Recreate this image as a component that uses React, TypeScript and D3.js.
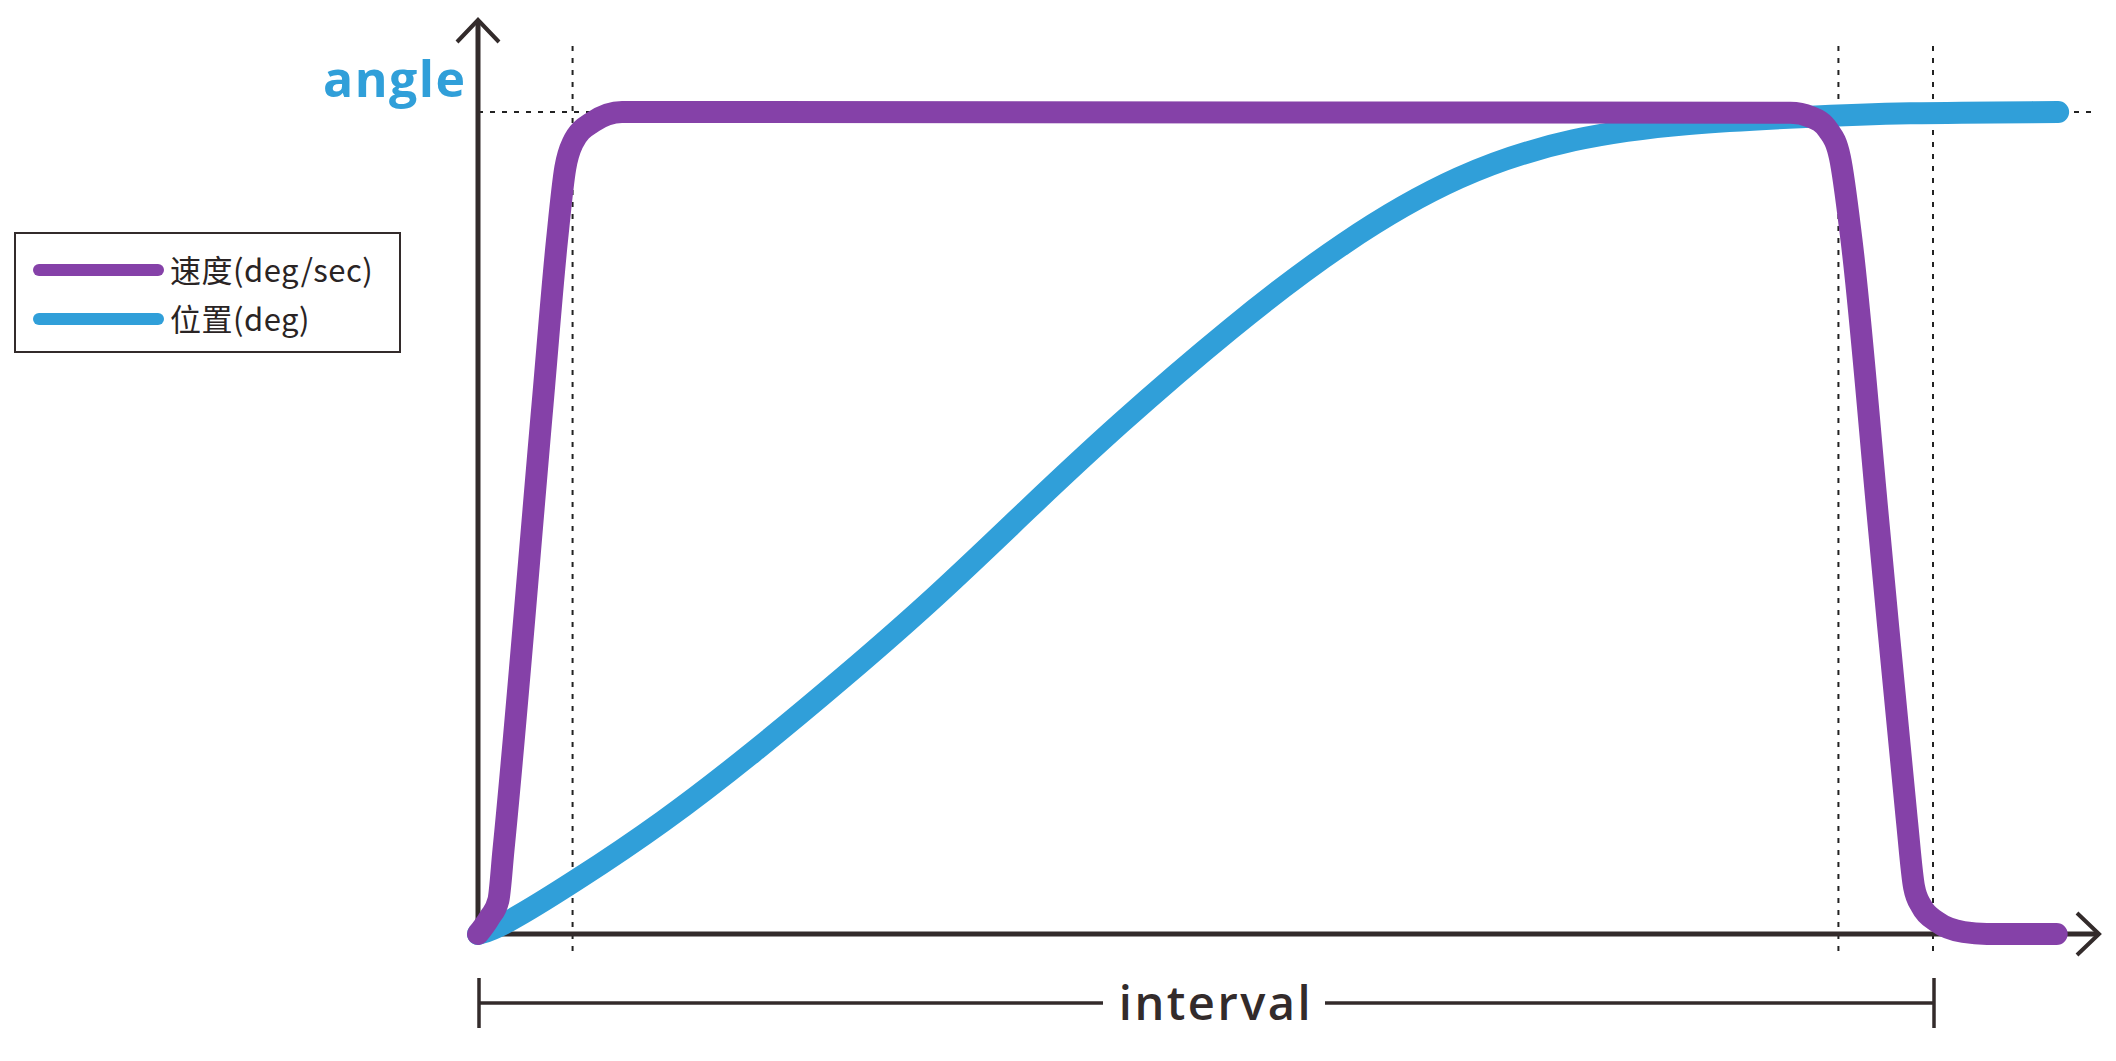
import React, {useEffect, useRef} from 'react';
import * as d3 from 'd3';

const width = 2116;
const height = 1061;

// time is in % of the interval, values in % of the target angle / max speed
const speedTime = [0, 0.8, 1.4, 1.75, 4.44, 5.43, 6.0, 6.5, 7.9, 9.9, 90.2, 91.6, 92.8, 93.6, 94.4, 96.3, 98.2, 98.7, 99.2, 100.3, 102.1, 103.7, 108.5];
const speedValue = [0, 2, 4.1, 10.2, 64.5, 84.4, 93.2, 96.2, 98.8, 100, 99.9, 99.4, 97.8, 94.5, 84.4, 49.1, 13.9, 5.7, 3.4, 1.46, 0.24, 0, 0];

const posTime = [0, 1.6, 6.5, 12.7, 18.9, 25.2, 31.5, 37.9, 43.8, 51.7, 59.5, 67.4, 75.3, 83.2, 91.1, 97.7, 108.6];
const posValue = [0, 0.85, 6.2, 13.5, 22, 31.3, 41, 51.9, 61.7, 73.8, 84.4, 92.6, 97, 98.7, 99.4, 99.9, 100];

// accel end, decel start, interval end
const markers = [6.5, 93.5, 100];

const legendLabels = ['速度(deg/sec)', '位置(deg)'];
const colors = ['#8541a8', '#309fd9'];
const axisColor = '#332b2b';

function App() {
    const ref = useRef<SVGSVGElement>(null);

    useEffect(() => {
        const svg = d3.select(ref.current);
        svg.selectAll('*').remove();

        const x = d3.scaleLinear().domain([0, 100]).range([478, 1933]);
        const y = d3.scaleLinear().domain([0, 100]).range([934, 112]);

        // dotted guides
        svg.append('line')
            .attr('x1', x(0)).attr('x2', x(111))
            .attr('y1', y(100)).attr('y2', y(100))
            .attr('stroke', '#222').attr('stroke-width', 2)
            .attr('stroke-dasharray', '5 7');

        svg.selectAll('.marker')
            .data(markers)
            .enter()
            .append('line')
            .attr('class', 'marker')
            .attr('x1', (d) => x(d)).attr('x2', (d) => x(d))
            .attr('y1', 46).attr('y2', 958)
            .attr('stroke', '#222').attr('stroke-width', 2)
            .attr('stroke-dasharray', '5 7');

        // axes with arrows
        svg.append('line')
            .attr('x1', x(0)).attr('x2', x(0))
            .attr('y1', y(0) + 2).attr('y2', 20)
            .attr('stroke', axisColor).attr('stroke-width', 5);
        svg.append('path')
            .attr('d', `M${x(0) - 21},42L${x(0)},20L${x(0) + 21},42`)
            .attr('fill', 'none').attr('stroke', axisColor).attr('stroke-width', 4);

        svg.append('line')
            .attr('x1', x(0)).attr('x2', 2098)
            .attr('y1', y(0)).attr('y2', y(0))
            .attr('stroke', axisColor).attr('stroke-width', 5);
        svg.append('path')
            .attr('d', `M2077,${y(0) - 21}L2099,${y(0)}L2077,${y(0) + 21}`)
            .attr('fill', 'none').attr('stroke', axisColor).attr('stroke-width', 4);

        // curves
        const posLine = d3.line<number>()
            .x((d) => x(d))
            .y((_, i) => y(posValue[i]))
            .curve(d3.curveBasis);

        const speedLine = d3.line<number>()
            .x((d) => x(d))
            .y((_, i) => y(speedValue[i]))
            .curve(d3.curveMonotoneX);

        svg.append('path')
            .attr('d', posLine(posTime))
            .attr('fill', 'none')
            .attr('stroke', colors[1])
            .attr('stroke-width', 22)
            .attr('stroke-linecap', 'round')
            .attr('stroke-linejoin', 'round');

        svg.append('path')
            .attr('d', speedLine(speedTime))
            .attr('fill', 'none')
            .attr('stroke', colors[0])
            .attr('stroke-width', 22)
            .attr('stroke-linecap', 'round')
            .attr('stroke-linejoin', 'round');

        // y label
        svg.append('text')
            .attr('x', 323).attr('y', 97)
            .attr('font-family', '"Open Sans", sans-serif')
            .attr('font-weight', 700)
            .attr('font-size', 50)
            .attr('letter-spacing', 1.5)
            .attr('fill', colors[1])
            .text('angle');

        // interval bracket
        const by = 1003;
        svg.append('line')
            .attr('x1', x(0)).attr('x2', 1103).attr('y1', by).attr('y2', by)
            .attr('stroke', axisColor).attr('stroke-width', 3.5);
        svg.append('line')
            .attr('x1', 1325).attr('x2', x(100)).attr('y1', by).attr('y2', by)
            .attr('stroke', axisColor).attr('stroke-width', 3.5);
        svg.selectAll('.tick')
            .data([0, 100])
            .enter()
            .append('line')
            .attr('class', 'tick')
            .attr('x1', (d) => x(d) + 1).attr('x2', (d) => x(d) + 1)
            .attr('y1', 978).attr('y2', 1028)
            .attr('stroke', axisColor).attr('stroke-width', 3.5);
        svg.append('text')
            .attr('x', 1216).attr('y', 1020)
            .attr('text-anchor', 'middle')
            .attr('font-family', '"Open Sans", sans-serif')
            .attr('font-weight', 600)
            .attr('font-size', 47)
            .attr('letter-spacing', 2.5)
            .attr('fill', axisColor)
            .text('interval');

        // legend
        const legend = svg.append('g');
        legend.append('rect')
            .attr('x', 15).attr('y', 233)
            .attr('width', 385).attr('height', 119)
            .attr('fill', 'none')
            .attr('stroke', axisColor)
            .attr('stroke-width', 2);

        const item = legend.selectAll('.item')
            .data(legendLabels)
            .enter()
            .append('g')
            .attr('class', 'item')
            .attr('transform', (_, i) => `translate(0, ${270 + i * 49})`);

        item.append('line')
            .attr('x1', 39).attr('x2', 158)
            .attr('stroke', (_, i) => colors[i])
            .attr('stroke-width', 12)
            .attr('stroke-linecap', 'round');

        item.append('text')
            .attr('x', 170).attr('y', 12)
            .attr('font-family', '"Noto Sans CJK SC", sans-serif')
            .attr('font-size', 31)
            .attr('letter-spacing', 0.5)
            .attr('fill', '#2a2424')
            .text((d) => d);
    }, []);

    return (
        <svg ref={ref} width={width} height={height}
             style={{position: 'absolute', left: 0, top: 0, background: '#fff'}}/>
    );
}

export default App;
